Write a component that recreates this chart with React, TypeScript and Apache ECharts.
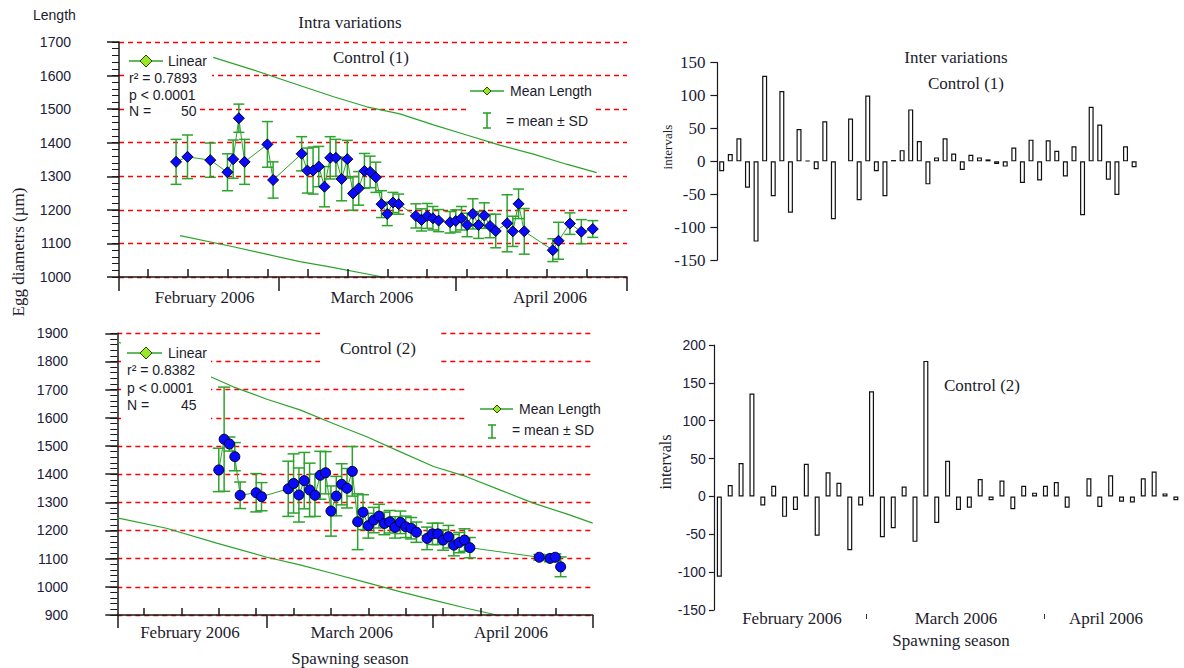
import React, { useEffect, useRef } from 'react';
import * as echarts from 'echarts';

// Day numbers are counted from 1 February 2006.
const monthNames = ['February 2006', 'March 2006', 'April 2006'];
const monthBoundaryDays = [0, 28, 59, 89];
const weekTickDays = [5, 12, 19, 26, 33, 40, 47, 54, 61, 68, 75, 82];
const monthLabelDaysC1 = [15, 44.3, 75.5];
const monthLabelDaysC2 = [13.6, 43.9, 73.7];

// Control (1): mean egg diameter (µm) and SD per sampling day
const c1Days = [10, 12, 16, 19, 20, 21, 22, 26, 27, 32, 33, 34, 35, 36, 37, 38, 39, 40, 41, 42, 43, 44, 45, 46, 47, 48, 49, 52, 53, 54, 55, 56, 58, 59, 60, 61, 62, 63, 64, 65, 66, 68, 69, 70, 71, 76, 77, 79, 81, 83];
const c1Mean = [1343, 1358, 1348, 1312, 1351, 1473, 1343, 1395, 1289, 1367, 1317, 1317, 1329, 1269, 1355, 1355, 1292, 1351, 1249, 1264, 1316, 1313, 1297, 1217, 1188, 1222, 1217, 1182, 1170, 1182, 1175, 1168, 1163, 1167, 1175, 1155, 1188, 1155, 1183, 1152, 1137, 1160, 1136, 1218, 1136, 1080, 1108, 1159, 1135, 1143];
const c1Sd = [67, 65, 51, 55, 57, 42, 67, 68, 54, 51, 67, 70, 60, 60, 63, 55, 65, 56, 50, 50, 52, 47, 45, 40, 35, 30, 30, 36, 33, 37, 35, 33, 32, 33, 35, 35, 45, 40, 38, 35, 50, 85, 45, 44, 68, 34, 55, 32, 36, 25];
const c1UpperDays = [16.5, 23.5, 30.5, 37.6, 43.4, 49.2, 55.1, 60.9, 66.7, 72.6, 78.4, 83.7];
const c1Upper = [1654, 1617, 1577, 1537, 1507, 1486, 1453, 1423, 1393, 1366, 1336, 1311];
const c1LowerDays = [10.7, 20, 25.8, 31.7, 36.7, 45.3, 50];
const c1Lower = [1123, 1090, 1068, 1046, 1031, 1003, 985];
// Control (1): inter variations between successive samples
const c1Inter = [-15, 11, 35, -40, -122, 130, -53, 107, -78, 49, 1, -12, 61, -88, 0, 65, -59, 100, -15, -53, 2, 17, 79, 31, -35, 6, 35, 12, -13, 10, 6, 3, -4, -8, 21, -33, 33, -29, 32, 16, -23, 23, -82, 83, 56, -28, -51, 23, -9];

// Control (2)
const c2Days = [19, 20, 21, 22, 23, 26, 27, 32, 33, 34, 35, 36, 37, 38, 39, 40, 41, 42, 43, 44, 45, 46, 47, 48, 49, 50, 51, 52, 53, 54, 55, 56, 58, 59, 60, 61, 62, 63, 64, 65, 66, 79, 81, 82, 83];
const c2Mean = [1415, 1524, 1507, 1462, 1325, 1334, 1320, 1348, 1367, 1326, 1377, 1344, 1325, 1396, 1405, 1269, 1322, 1364, 1350, 1410, 1231, 1265, 1217, 1237, 1251, 1225, 1231, 1211, 1229, 1213, 1208, 1194, 1172, 1188, 1188, 1166, 1178, 1148, 1157, 1166, 1139, 1105, 1101, 1105, 1071];
const c2Sd = [77, 185, 25, 50, 47, 68, 50, 98, 105, 96, 100, 95, 75, 85, 75, 89, 70, 73, 70, 88, 99, 62, 44, 45, 42, 40, 40, 38, 40, 38, 38, 36, 40, 38, 38, 36, 40, 38, 36, 40, 36, 10, 12, 12, 35];
const c2UpperDays = [0, 17.9, 21.7, 28, 34.2, 40.4, 46.7, 52.9, 59.2, 65.4, 71.6, 77.9, 84.1, 89];
const c2Upper = [1870, 1742, 1710, 1666, 1628, 1580, 1533, 1480, 1427, 1391, 1344, 1297, 1259, 1226];
const c2LowerDays = [0, 9.2, 18.6, 28, 34.2, 39.8, 46.7, 52.9, 59.2, 65.4, 71.0];
const c2Lower = [1245, 1208, 1155, 1105, 1078, 1050, 1015, 983, 953, 924, 900];
const c2Inter = [-106, 15, 44, 136, -12, 14, -27, -18, 43, -52, 32, 18, -71, -12, 139, -54, -42, 13, -60, 179, -35, 47, -18, -15, 23, -5, 21, -17, 14, 5, 14, 19, -15, 0, 24, -14, 28, -7, -8, 24, 33, 4, -5];
// month labels and separators under the Control (2) interval bars, in bar-slot units
const interLabelSlotsC2 = [7.18, 22.27, 36.07];
const interTickSlotsC2 = [14.06, 30.37];

const GREEN = '#2ca32c';
const INK = '#1c1c2c';
const SANS = '"Liberation Sans", Arial, sans-serif';
const SERIF = '"Liberation Serif", "Times New Roman", serif';

const pairs = (xs: number[], ys: number[]) => xs.map((x, i) => [x, ys[i]]);

const nearestName = (targets: number[]) => (v: number) => {
  let best = 0;
  targets.forEach((t, i) => {
    if (Math.abs(t - v) < Math.abs(targets[best] - v)) best = i;
  });
  return monthNames[best];
};

function errorBars(xi: number, yi: number, days: number[], mean: number[], sd: number[], half: number) {
  return {
    type: 'custom',
    xAxisIndex: xi,
    yAxisIndex: yi,
    z: 3,
    silent: true,
    encode: { x: 0, y: [1, 2] },
    data: days.map((d, i) => [d, mean[i] - sd[i], mean[i] + sd[i]]),
    renderItem: (_params: any, api: any) => {
      const x = api.value(0);
      const lo = api.coord([x, api.value(1)]);
      const hi = api.coord([x, api.value(2)]);
      const style = { stroke: GREEN, lineWidth: 1.5 };
      return {
        type: 'group',
        children: [
          { type: 'line', shape: { x1: hi[0], y1: hi[1], x2: lo[0], y2: lo[1] }, style },
          { type: 'line', shape: { x1: hi[0] - half, y1: hi[1], x2: hi[0] + half, y2: hi[1] }, style },
          { type: 'line', shape: { x1: lo[0] - half, y1: lo[1], x2: lo[0] + half, y2: lo[1] }, style },
        ],
      };
    },
  };
}

function band(xi: number, yi: number, days: number[], vals: number[]) {
  return {
    type: 'line',
    xAxisIndex: xi,
    yAxisIndex: yi,
    z: 1,
    silent: true,
    symbol: 'none',
    clip: true,
    lineStyle: { color: GREEN, width: 1.2 },
    data: pairs(days, vals),
  };
}

function means(xi: number, yi: number, days: number[], vals: number[], symbol: string, size: number) {
  return {
    type: 'line',
    xAxisIndex: xi,
    yAxisIndex: yi,
    z: 4,
    symbol,
    symbolSize: size,
    showAllSymbol: true,
    lineStyle: { color: GREEN, width: 1 },
    itemStyle: { color: '#0a0aff', borderColor: '#000028', borderWidth: 1 },
    data: pairs(days, vals),
  };
}

function bars(xi: number, yi: number, vals: number[]) {
  return {
    type: 'bar',
    xAxisIndex: xi,
    yAxisIndex: yi,
    barWidth: 5,
    itemStyle: { color: '#ffffff', borderColor: '#111111', borderWidth: 1.2 },
    data: vals.map((v) => (v === 0 ? '-' : v)),
  };
}

const axisInk = { color: '#1a1a1a', width: 1.5 };

function monthAxis(grid: number, labelDays: number[], tickLen: number, labelMargin: number) {
  return {
    gridIndex: grid,
    type: 'value',
    min: 0,
    max: 89,
    position: 'bottom',
    z: 6,
    axisLine: { show: true, lineStyle: axisInk },
    axisTick: { show: true, customValues: monthBoundaryDays, length: tickLen, lineStyle: axisInk },
    axisLabel: {
      show: true,
      customValues: labelDays,
      formatter: nearestName(labelDays),
      margin: labelMargin,
      fontFamily: SERIF,
      fontSize: 17,
      color: INK,
    },
    splitLine: { show: false },
  };
}

function weekAxis(grid: number, len: number) {
  return {
    gridIndex: grid,
    type: 'value',
    min: 0,
    max: 89,
    position: 'bottom',
    z: 6,
    axisLine: { show: false },
    axisTick: { show: true, inside: true, customValues: weekTickDays, length: len, lineStyle: axisInk },
    axisLabel: { show: false },
    splitLine: { show: false },
  };
}

function diameterAxis(grid: number, min: number, max: number, offset: number, margin: number) {
  return {
    gridIndex: grid,
    type: 'value',
    position: 'left',
    min,
    max,
    interval: 100,
    offset,
    axisLine: { show: true, lineStyle: axisInk },
    axisTick: { show: true, length: 12, lineStyle: axisInk },
    axisLabel: { fontFamily: SANS, fontSize: 14, color: '#20203a', margin, formatter: (v: number) => String(v) },
    splitLine: { show: true, lineStyle: { color: '#ff0000', type: [5, 4], width: 1.3 } },
  };
}

// fine 20 µm ticks on the diameter axes
function diameterMinorAxis(grid: number, min: number, max: number, offset: number) {
  return {
    gridIndex: grid,
    type: 'value',
    position: 'left',
    min,
    max,
    interval: 20,
    offset,
    axisLine: { show: false },
    axisTick: { show: true, length: 7, lineStyle: { color: '#1a1a1a', width: 1 } },
    axisLabel: { show: false },
    splitLine: { show: false },
  };
}

function intervalAxis(grid: number, min: number, max: number, font: string, size: number, tickLen: number, margin: number) {
  return {
    gridIndex: grid,
    type: 'value',
    position: 'left',
    min,
    max,
    interval: 50,
    axisLine: { show: true, lineStyle: { color: '#1a1a1a', width: 1.2 } },
    axisTick: { show: true, length: tickLen, lineStyle: { color: '#1a1a1a', width: 1.2 } },
    axisLabel: { fontFamily: font, fontSize: size, color: '#20203a', margin },
    splitLine: { show: false },
  };
}

function txt(text: string, x: number, y: number, font: string, size: number, align = 'left', rotation = 0) {
  return {
    type: 'text',
    x,
    y,
    rotation,
    z: 10,
    style: {
      text,
      fill: INK,
      font: `${size}px ${font}`,
      align,
      textAlign: align,
      verticalAlign: 'middle',
      textVerticalAlign: 'middle',
    },
  };
}

function blank(x: number, y: number, width: number, height: number) {
  return { type: 'rect', z: 2, shape: { x, y, width, height }, style: { fill: '#ffffff' } };
}

function hline(x1: number, x2: number, y: number) {
  return { type: 'line', z: 10, shape: { x1, y1: y, x2, y2: y }, style: { stroke: GREEN, lineWidth: 1.5 } };
}

function diamond(cx: number, cy: number, r: number) {
  return {
    type: 'polygon',
    z: 11,
    shape: { points: [[cx, cy - r], [cx + r, cy], [cx, cy + r], [cx - r, cy]] },
    style: { fill: '#9be62a', stroke: '#2a4a00', lineWidth: 1 },
  };
}

function sdSymbol(x: number, y1: number, y2: number) {
  const s = { stroke: GREEN, lineWidth: 1.6 };
  return [
    { type: 'line', z: 10, shape: { x1: x, y1, x2: x, y2 }, style: s },
    { type: 'line', z: 10, shape: { x1: x - 4, y1, x2: x + 4, y2: y1 }, style: s },
    { type: 'line', z: 10, shape: { x1: x - 4, y1: y2, x2: x + 4, y2 }, style: s },
  ];
}

const graphics = [
  // top-left panel
  txt('Length', 33, 15, SANS, 14),
  txt('Intra variations', 350, 22, SERIF, 17, 'center'),
  txt('Control (1)', 371, 57, SERIF, 17, 'center'),
  blank(126, 50, 86, 38),
  blank(126, 88, 73, 32),
  hline(129, 163, 61),
  diamond(146, 61, 6),
  txt('Linear', 168, 61, SANS, 14),
  txt('r² = 0.7893', 129, 78, SANS, 14),
  txt('p < 0.0001', 129, 95, SANS, 14),
  txt('N =', 129, 111, SANS, 14),
  txt('50', 181, 111, SANS, 14),
  blank(466, 80, 128, 52),
  hline(470, 504, 91),
  diamond(487, 91, 4),
  txt('Mean Length', 510, 91, SANS, 14),
  ...sdSymbol(487, 113, 128),
  txt('= mean ± SD', 506, 121, SANS, 14),
  txt('Egg diametrs (µm)', 18, 252, SERIF, 17, 'center', Math.PI / 2),
  // top-right panel
  txt('Inter variations', 956, 57, SERIF, 17, 'center'),
  txt('Control (1)', 966, 83, SERIF, 17, 'center'),
  txt('intervals', 667, 147, SERIF, 13, 'center', Math.PI / 2),
  // bottom-left panel
  blank(320, 327, 118, 41),
  txt('Control (2)', 378, 348, SERIF, 17, 'center'),
  blank(121, 337, 90, 88),
  hline(127, 162, 353),
  diamond(146, 353, 6),
  txt('Linear', 168, 353, SANS, 14),
  txt('r² = 0.8382', 127, 370, SANS, 14),
  txt('p < 0.0001', 127, 388, SANS, 14),
  txt('N =', 127, 405, SANS, 14),
  txt('45', 181, 405, SANS, 14),
  blank(465, 385, 135, 55),
  hline(480, 513, 409),
  diamond(497, 409, 4),
  txt('Mean Length', 519, 409, SANS, 14),
  ...sdSymbol(492, 425, 438),
  txt('= mean ± SD', 512, 430, SANS, 14),
  txt('Spawning season', 350, 658, SERIF, 17, 'center'),
  // bottom-right panel
  txt('Control (2)', 982, 385, SERIF, 17, 'center'),
  txt('intervals', 665, 462, SERIF, 16, 'center', Math.PI / 2),
  txt('Spawning season', 951, 640, SERIF, 17, 'center'),
];

export default function App() {
  const ref = useRef<HTMLDivElement>(null);

  useEffect(() => {
    if (!ref.current) return;
    const chart = echarts.init(ref.current, undefined, { renderer: 'svg' });
    const slot2 = 10.87;
    chart.setOption({
      animation: false,
      backgroundColor: '#ffffff',
      grid: [
        { left: 119, top: 42, width: 508, height: 235 },
        { left: 717.4, top: 62.7, width: 421, height: 197.3 },
        { left: 117.3, top: 333.3, width: 475.4, height: 281.7 },
        { left: 713.9, top: 345, width: slot2 * c2Inter.length, height: 265 },
      ],
      xAxis: [
        monthAxis(0, monthLabelDaysC1, 14, 12),
        weekAxis(0, 8),
        { gridIndex: 1, type: 'category', data: c1Inter.map((_, i) => String(i + 1)), show: false },
        monthAxis(2, monthLabelDaysC2, 13, 9),
        weekAxis(2, 7),
        { gridIndex: 3, type: 'category', data: c2Inter.map((_, i) => String(i + 1)), show: false },
        {
          gridIndex: 3,
          type: 'value',
          min: 0,
          max: c2Inter.length,
          position: 'bottom',
          offset: 4,
          axisLine: { show: false },
          axisTick: { show: true, customValues: interTickSlotsC2, length: 5, lineStyle: { color: '#333', width: 1 } },
          axisLabel: {
            show: true,
            customValues: interLabelSlotsC2,
            formatter: nearestName(interLabelSlotsC2),
            margin: -4,
            fontFamily: SERIF,
            fontSize: 17,
            color: INK,
          },
          splitLine: { show: false },
        },
      ],
      yAxis: [
        diameterAxis(0, 1000, 1700, 22, 26),
        intervalAxis(1, -150, 150, SERIF, 17, 7, 12),
        diameterAxis(2, 900, 1900, 21.3, 28),
        intervalAxis(3, -150, 200, SANS, 14, 5, 8),
        diameterMinorAxis(0, 1000, 1700, 22),
        diameterMinorAxis(2, 900, 1900, 21.3),
      ],
      series: [
        band(0, 0, c1UpperDays, c1Upper),
        band(0, 0, c1LowerDays, c1Lower),
        errorBars(0, 0, c1Days, c1Mean, c1Sd, 5.5),
        means(0, 0, c1Days, c1Mean, 'diamond', 11),
        bars(2, 1, c1Inter),
        band(3, 2, c2UpperDays, c2Upper),
        band(3, 2, c2LowerDays, c2Lower),
        errorBars(3, 2, c2Days, c2Mean, c2Sd, 6),
        means(3, 2, c2Days, c2Mean, 'circle', 10),
        bars(5, 3, c2Inter),
      ],
      graphic: graphics,
    });
    return () => chart.dispose();
  }, []);

  return (
    <div
      ref={ref}
      style={{ position: 'fixed', left: 0, top: 0, width: 1184, height: 668, background: '#fff' }}
    />
  );
}
